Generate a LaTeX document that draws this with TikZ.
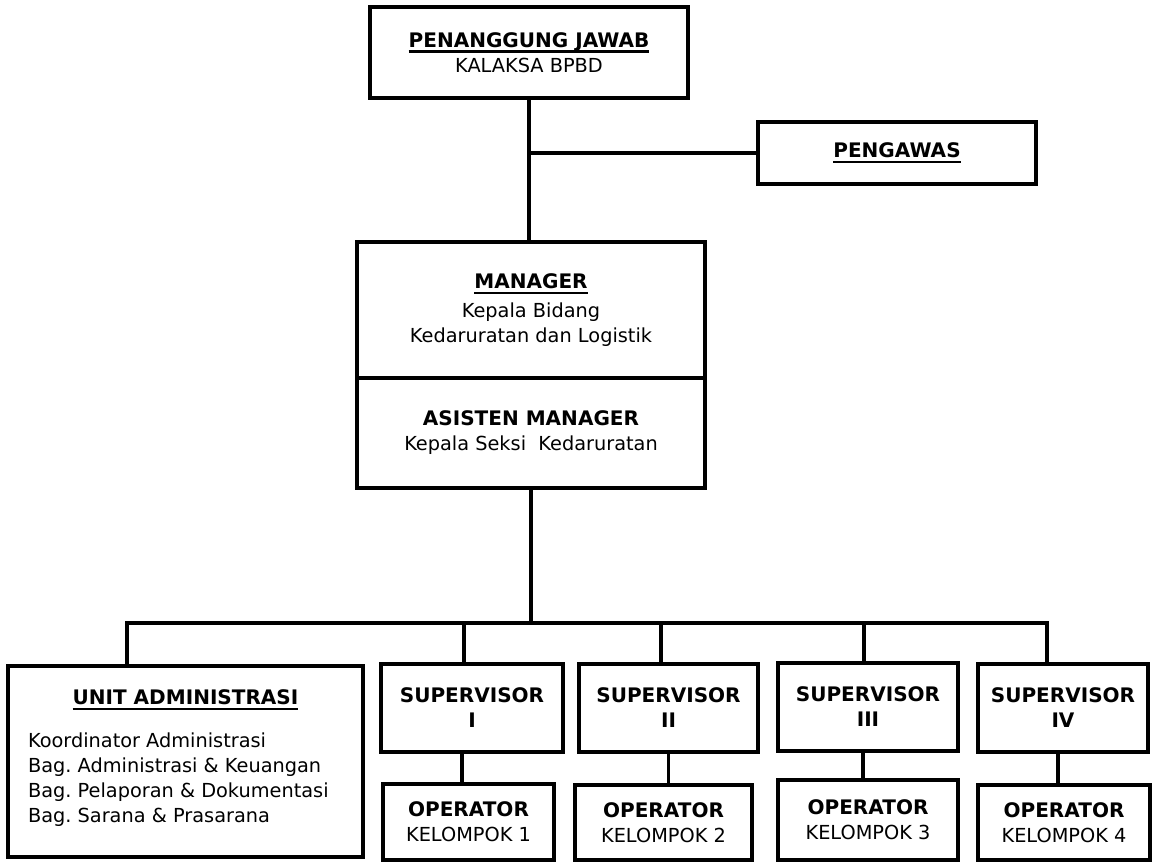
\documentclass[tikz,border=0pt]{standalone}
\usepackage{fontspec}
\setmainfont{DejaVu Sans}
\frenchspacing
\def\hd#1{{\fontsize{11.4pt}{14.2pt}\selectfont\bfseries #1}}
\def\uhd#1{\setbox0\hbox{\hd{#1}}\leavevmode\rlap{\vrule width\wd0 height-1.8pt depth3pt}\box0}

\begin{document}
\begin{tikzpicture}[x=0.02cm, y=-0.02cm,
		box/.style={draw, line width=2.5pt, align=center, inner sep=0pt, font=\fontsize{11pt}{14.2pt}\selectfont},
		link/.style={line width=2pt}]
		%%%%% START %%%%%
		
		\useasboundingbox (0,0) rectangle (1156,863);
		
		\node[box, minimum width=6.36cm, minimum height=1.82cm] (pj) at (529,52.5) {\uhd{PENANGGUNG JAWAB}\\KALAKSA BPBD};
		\node[box, minimum width=5.56cm, minimum height=1.24cm] (pengawas) at (897,153) {\uhd{PENGAWAS}};
		
		\node[box, minimum width=6.96cm, minimum height=2.72cm] (manager) at (531,310) {\uhd{MANAGER}\\[2pt]Kepala Bidang\\Kedaruratan dan Logistik};
		\node[box, minimum width=6.96cm, minimum height=2.2cm] (asisten) at (531,433) {\hd{ASISTEN MANAGER}\\Kepala Seksi\ \ Kedaruratan};
		
		\draw[link] (pj.south) -- (pj.south |- manager.north);
		\draw[link] (pj.south |- pengawas.west) -- (pengawas.west);
		
		\node[box, minimum width=7.1cm, minimum height=3.82cm, align=left] (admin) at (185.5,761.5) {\makebox[6.3cm]{\uhd{UNIT ADMINISTRASI}}\\[10pt]Koordinator Administrasi\\Bag. Administrasi \& Keuangan\\Bag. Pelaporan \& Dokumentasi\\Bag. Sarana \& Prasarana\\[-8pt]\mbox{}};
		
		\node[box, minimum width=3.64cm, minimum height=1.76cm] (sup1) at (472,708) {\hd{SUPERVISOR}\\\hd{I}};
		\node[box, minimum width=3.58cm, minimum height=1.76cm] (sup2) at (668.5,708) {\hd{SUPERVISOR}\\\hd{II}};
		\node[box, minimum width=3.6cm, minimum height=1.76cm] (sup3) at (868,707) {\hd{SUPERVISOR}\\\hd{III}};
		\node[box, minimum width=3.4cm, minimum height=1.76cm] (sup4) at (1063,708) {\hd{SUPERVISOR}\\\hd{IV}};
		
		\node[box, minimum width=3.42cm, minimum height=1.52cm] (op1) at (468.5,822) {\hd{OPERATOR}\\KELOMPOK 1};
		\node[box, minimum width=3.54cm, minimum height=1.5cm] (op2) at (663.5,822.5) {\hd{OPERATOR}\\KELOMPOK 2};
		\node[box, minimum width=3.6cm, minimum height=1.6cm] (op3) at (868,820) {\hd{OPERATOR}\\KELOMPOK 3};
		\node[box, minimum width=3.44cm, minimum height=1.5cm] (op4) at (1064,822.5) {\hd{OPERATOR}\\KELOMPOK 4};
		
		% bus
		\coordinate (busL) at (127,623);
		\coordinate (busR) at (1047,623);
		\coordinate (d1) at (464,623);
		\coordinate (d2) at (661,623);
		\coordinate (d3) at (864,623);
		
		\draw[link] (asisten.south) -- (asisten.south |- busL);
		\draw[link] (busL |- admin.north) -- (busL) -- (busR) -- (busR |- sup4.north);
		\draw[link] (d1) -- (d1 |- sup1.north);
		\draw[link] (d2) -- (d2 |- sup2.north);
		\draw[link] (d3) -- (d3 |- sup3.north);
		
		\draw[link] ([xshift=-0.2cm]sup1.south) -- ([xshift=-0.2cm]sup1.south |- op1.north);
		\draw[link] (sup2.south) -- (sup2.south |- op2.north);
		\draw[link] ([xshift=-0.1cm]sup3.south) -- ([xshift=-0.1cm]sup3.south |- op3.north);
		\draw[link] ([xshift=-0.1cm]sup4.south) -- ([xshift=-0.1cm]sup4.south |- op4.north);
		
		%%%%% END %%%%%
	\end{tikzpicture}
\end{document}
